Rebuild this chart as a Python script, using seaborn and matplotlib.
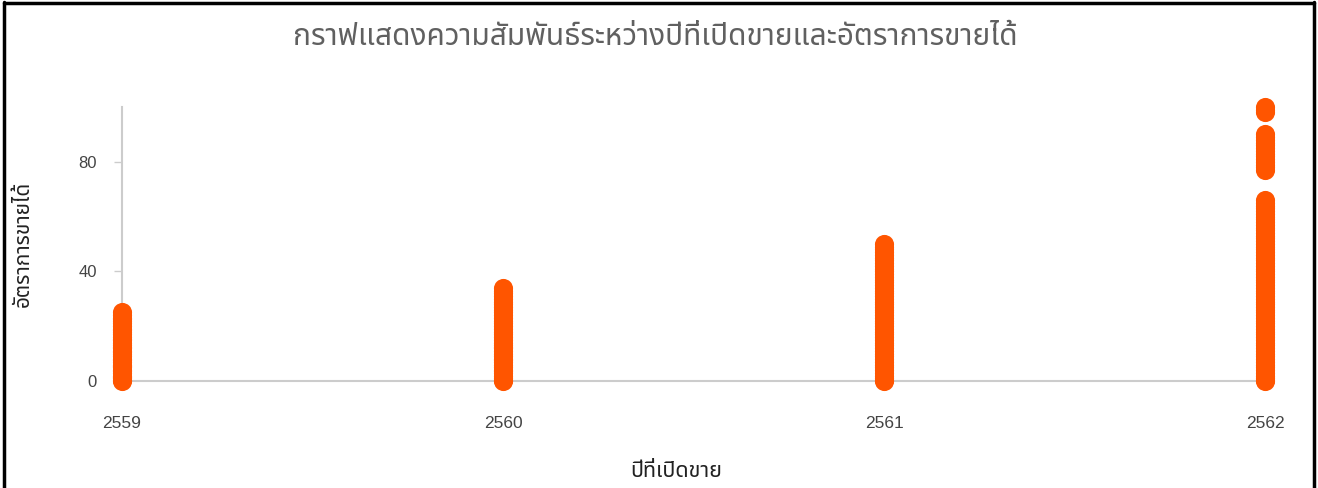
import matplotlib
matplotlib.use("Agg")
import matplotlib.pyplot as plt
import seaborn as sns
import pandas as pd

# ---- data ----
rate_2559 = [0, 0.5, 1, 1.5, 2, 3, 3.5, 4, 5, 5.5, 6, 7, 7.5, 8, 9, 10, 10.5, 11, 12, 12.5,
             13, 14, 15, 15.5, 16, 17, 18, 18.5, 19, 20, 21, 22, 22.5, 23, 24, 25]
rate_2560 = [0, 0.5, 1, 2, 3, 3.5, 4, 5, 6, 7, 7.5, 8, 9, 10, 11, 12, 12.5, 13, 14, 15, 16,
             17, 18, 19, 20, 21, 22, 23, 24, 25, 26, 27, 28, 29, 30, 31, 32, 33, 34]
rate_2561 = [0, 0.5, 1, 2, 3, 4, 5, 6, 7, 8, 9, 10, 11, 12, 13, 14, 15, 16, 17, 18, 19, 20,
             21, 22, 23, 24, 25, 26, 27, 28, 29, 30, 31, 32, 33, 34, 35, 36, 37, 38, 39, 40,
             41, 42, 43, 44, 45, 46, 47, 48, 49, 50]
rate_2562 = [0, 0.5, 1, 2, 3, 4, 5, 6, 7, 8, 9, 10, 11, 12, 13, 14, 15, 16, 17, 18, 19, 20,
             21, 22, 23, 24, 25, 26, 27, 28, 29, 30, 31, 32, 33, 34, 35, 36, 37, 38, 39, 40,
             41, 42, 43, 44, 45, 46, 47, 48, 49, 50, 51, 52, 53, 54, 55, 56, 57, 58, 59, 60,
             61, 62, 63, 64, 65, 66, 77, 78, 79, 80, 81, 82, 83, 84, 85, 86, 87, 88, 89, 90,
             98, 99, 100]
years = [2559, 2560, 2561, 2562]

title = "กราฟแสดงความสัมพันธ์ระหว่างปีที่เปิดขายและอัตราการขายได้"
xlabel = "ปีที่เปิดขาย"
ylabel = "อัตราการขายได้"

rows = []
for yr, vals in zip(years, [rate_2559, rate_2560, rate_2561, rate_2562]):
    for v in vals:
        rows.append({"year": yr, "rate": v})
df = pd.DataFrame(rows)

sns.set_style("white")
plt.rcParams["font.family"] = ["Liberation Sans", "Noto Sans Thai", "IBM Plex Sans Thai", "DejaVu Sans"]

fig = plt.figure(figsize=(13.18, 4.88), dpi=100)
ax = fig.add_axes([0.0926, 0.2193, 0.8672, 0.5615])

sns.scatterplot(data=df, x="year", y="rate", ax=ax, color="#ff5500",
                s=190, linewidth=0, alpha=1, clip_on=False, zorder=3)

ax.set_xlim(2559, 2562)
ax.set_ylim(0, 100)
ax.set_xticks(years)
ax.set_xticklabels([str(y) for y in years])
ax.set_yticks([0, 40, 80])

for side in ["top", "right"]:
    ax.spines[side].set_visible(False)
for side in ["left", "bottom"]:
    ax.spines[side].set_color("#cccccc")
    ax.spines[side].set_linewidth(1.5)
ax.tick_params(axis="y", length=6, width=1, color="#cccccc", labelsize=12,
               labelcolor="#444444", pad=12, left=True)
ax.tick_params(axis="x", length=0, labelsize=12.5, labelcolor="#444444", pad=25)

ax.set_xlabel(xlabel, fontsize=15.5, color="#222222")
ax.set_ylabel(ylabel, fontsize=15, color="#222222")
ax.xaxis.set_label_coords(0.485, -0.293)
ax.yaxis.set_label_coords(-0.078, 0.5)
fig.text(0.497, 0.925, title, ha="center", va="center", fontsize=21.5, color="#606060")

# black frame round the picture (bottom edge is cut off)
for xs, ys in [([0.003, 0.003], [0, 0.995]), ([0.003, 0.997], [0.993, 0.993]),
               ([0.997, 0.997], [0, 0.995])]:
    fig.add_artist(plt.Line2D(xs, ys, color="black", linewidth=2.5, transform=fig.transFigure))

fig.savefig("out.png", dpi=100)
